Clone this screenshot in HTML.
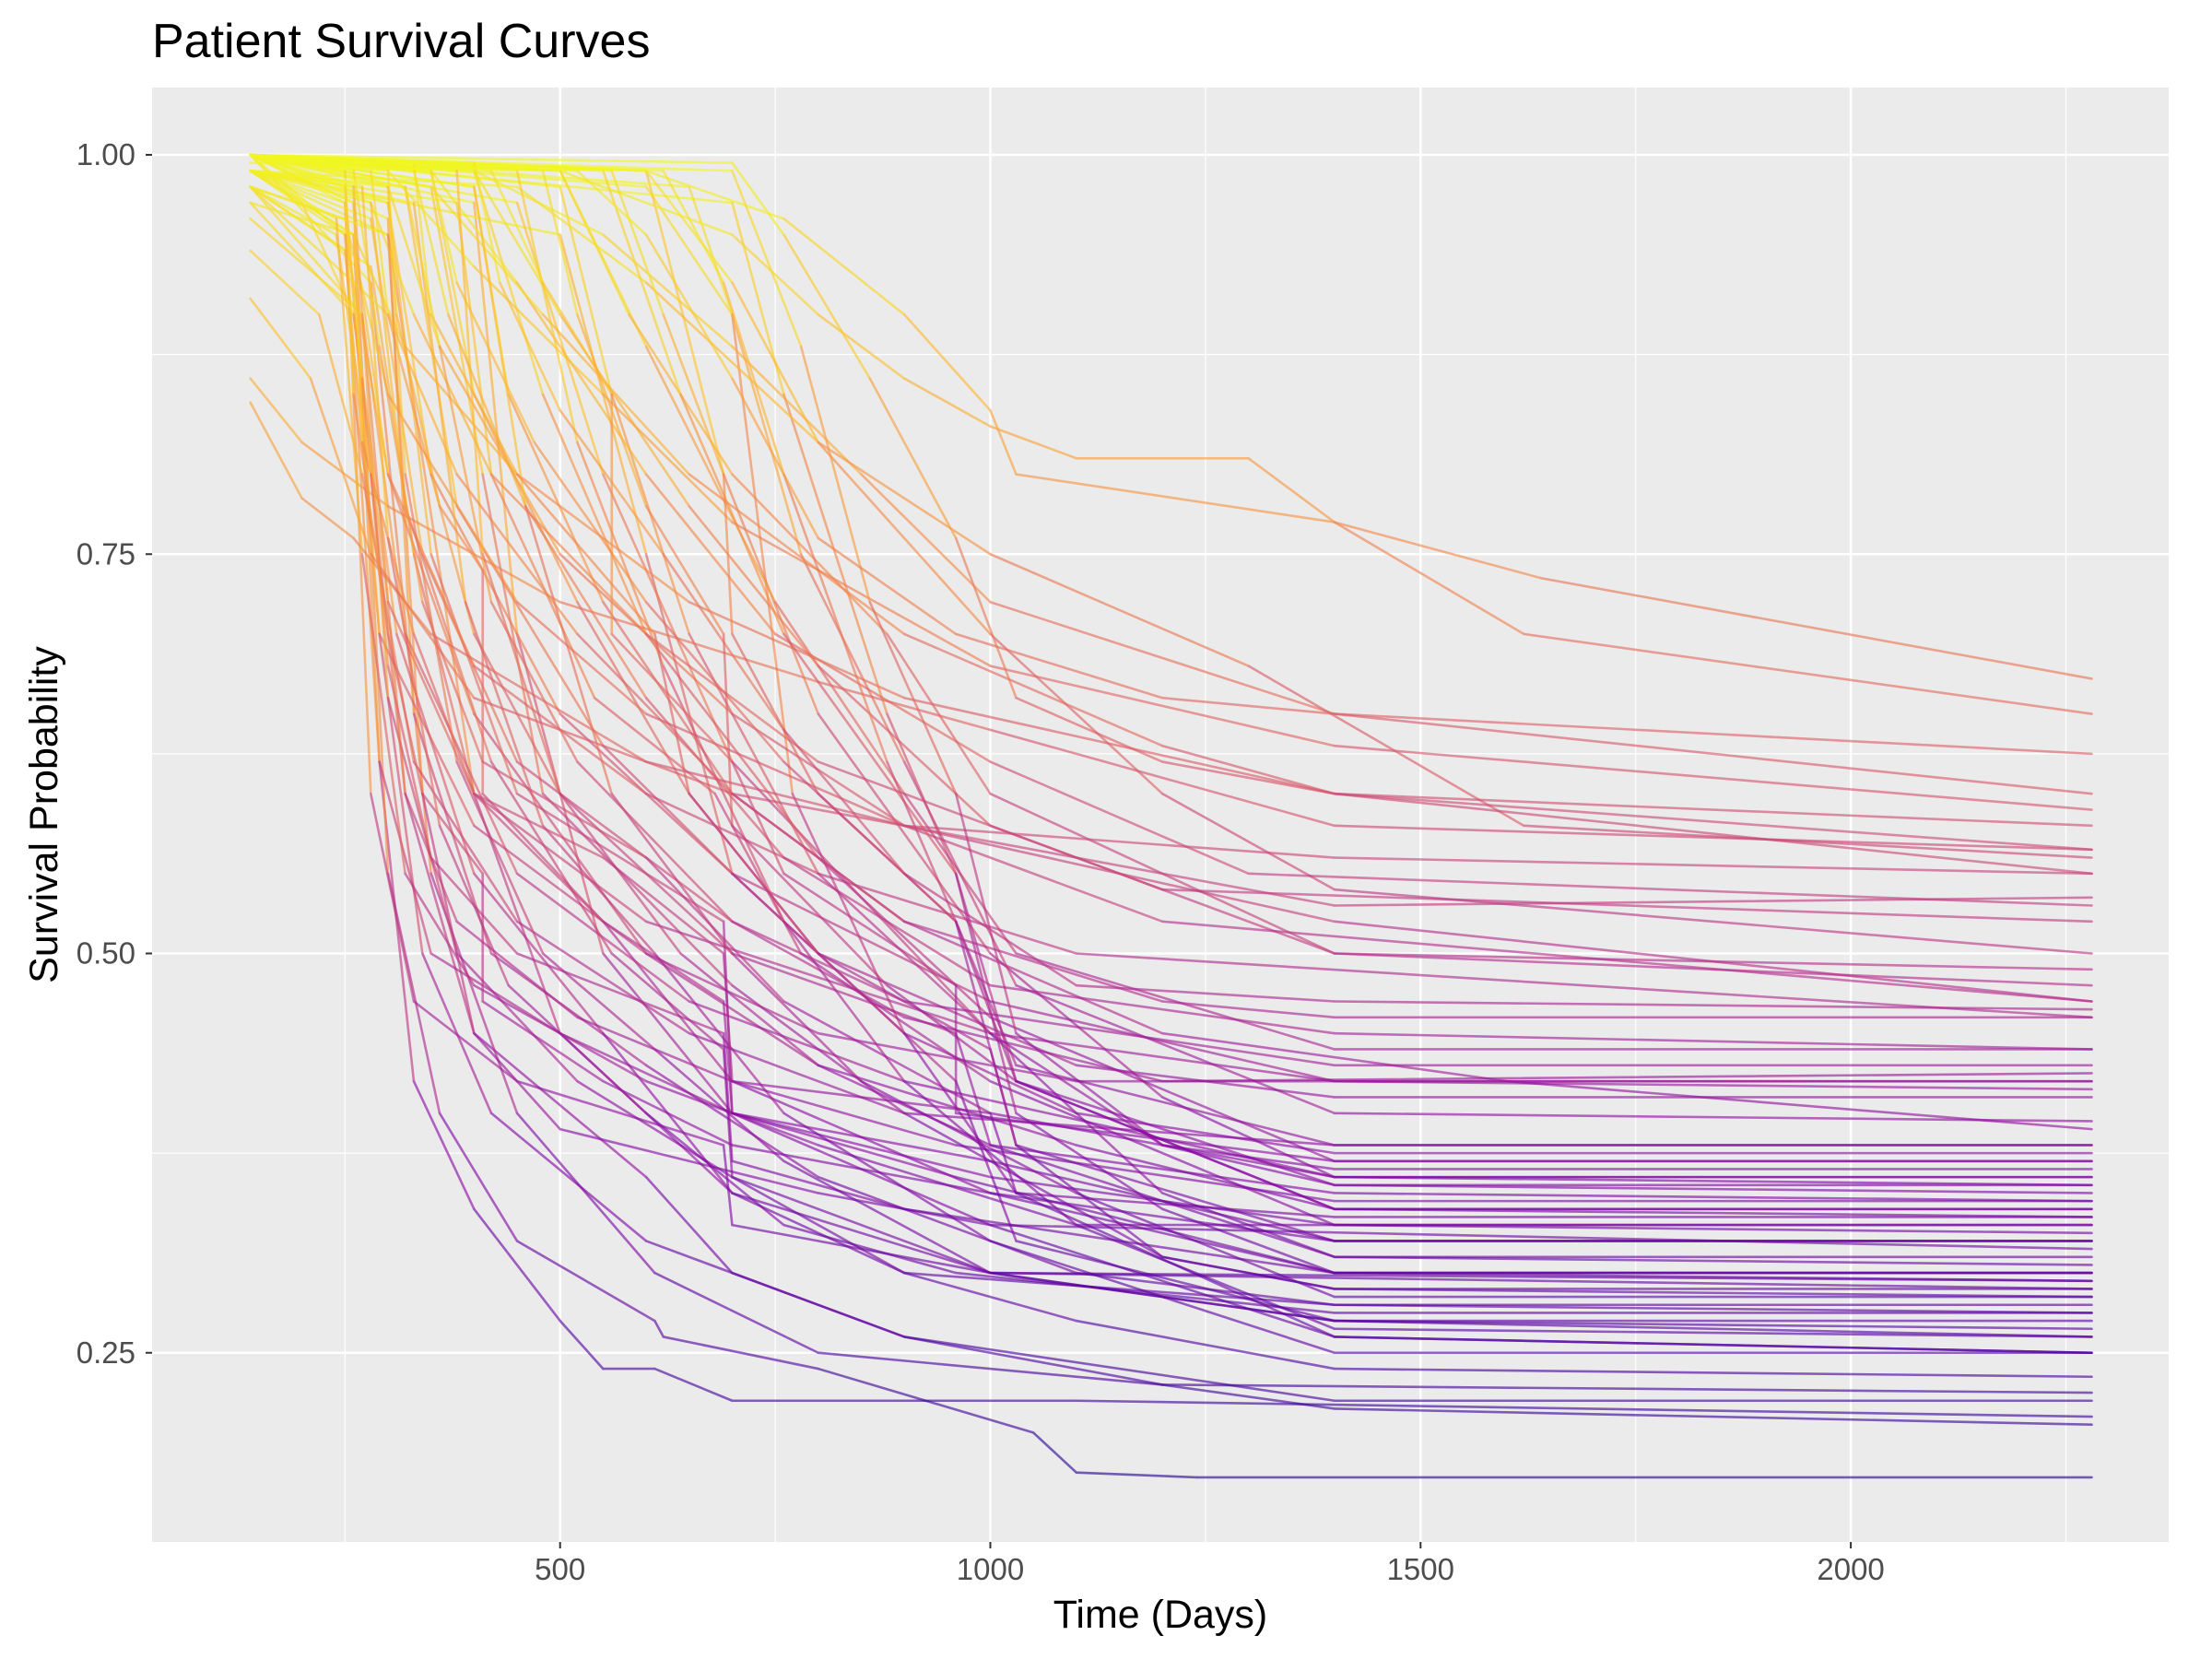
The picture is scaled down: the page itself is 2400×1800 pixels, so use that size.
<!DOCTYPE html>
<html><head><meta charset="utf-8"><style>
html,body{margin:0;padding:0;background:#fff;}
svg{display:block;font-family:"Liberation Sans",Arial,sans-serif;}
</style></head><body>
<svg id="chart" width="2400" height="1800" viewBox="0 0 2400 1800" xmlns="http://www.w3.org/2000/svg">
<rect width="2400" height="1800" fill="#ffffff"/>
<text x="165" y="62" font-size="52" fill="#000">Patient Survival Curves</text>
<rect x="165" y="95" width="2188" height="1578" fill="#ebebeb"/>
<g id="grid"></g>
<g id="lines"></g>
<g id="axes"></g>
<text x="1259" y="1766" font-size="43" text-anchor="middle" fill="#000">Time (Days)</text>
<text x="0" y="0" font-size="43" text-anchor="middle" fill="#000" transform="translate(62,884) rotate(-90)">Survival Probability</text>
</svg>
<script>
const xTicks = [500, 1000, 1500, 2000];
const xMinor = [250, 750, 1250, 1750, 2250];
const yTicks = [0.25, 0.5, 0.75, 1.0];
const yTickLabels = ["0.25", "0.50", "0.75", "1.00"];
const yMinor = [0.375, 0.625, 0.875];
const curves = [
[[140,0.99],[250,0.95],[290,0.62],[330,0.42],[400,0.34],[500,0.27],[550,0.24],[610,0.24],[700,0.22],[1000,0.22],[1100,0.22],[2280,0.21]],
[[140,1],[260,0.97],[300,0.55],[360,0.40],[450,0.32],[610,0.27],[620,0.26],[800,0.24],[1050,0.2],[1100,0.175],[1240,0.172],[2280,0.172]],
[[140,0.98],[270,0.9],[320,0.6],[400,0.45],[600,0.36],[700,0.3],[900,0.26],[1400,0.22],[2280,0.22]],
[[140,1],[280,0.92],[350,0.55],[450,0.4],[610,0.3],[800,0.25],[1200,0.23],[1400,0.215],[2280,0.205]],
[[140,0.99],[300,0.95],[400,0.6],[500,0.45],[700,0.35],[900,0.3],[1100,0.27],[1400,0.24],[2280,0.235]],
[[140,1],[250,0.98],[290,0.7],[340,0.5],[420,0.4],[600,0.32],[900,0.26],[1200,0.23],[2280,0.225]],
[[140,1],[400,0.97],[450,0.7],[550,0.5],[700,0.4],[1000,0.33],[1400,0.26],[2280,0.25]],
[[140,0.99],[500,0.95],[600,0.75],[700,0.55],[960,0.42],[1030,0.32],[1400,0.27],[2280,0.26]],
[[140,1],[300,0.96],[330,0.65],[420,0.5],[600,0.43],[800,0.36],[1100,0.3],[1400,0.28],[2280,0.275]],
[[140,0.97],[260,0.9],[310,0.7],[400,0.55],[550,0.45],[700,0.35],[1000,0.3],[2280,0.29]],
[[140,1],[600,0.98],[700,0.9],[770,0.6],[900,0.45],[1030,0.35],[1400,0.26],[2280,0.25]],
[[140,1],[350,0.98],[410,0.8],[480,0.6],[700,0.48],[900,0.4],[1200,0.31],[1400,0.29],[2280,0.285]],
[[140,0.98],[280,0.93],[330,0.75],[400,0.6],[550,0.52],[700,0.42],[1000,0.35],[1400,0.3],[2280,0.3]],
[[140,1],[450,0.97],[550,0.8],[700,0.62],[1000,0.45],[1200,0.35],[1400,0.31],[2280,0.305]],
[[140,1],[250,0.95],[300,0.8],[400,0.65],[600,0.5],[800,0.43],[1100,0.38],[1400,0.34],[2280,0.335]],
[[140,0.99],[300,0.97],[350,0.75],[450,0.6],[690,0.52],[700,0.4],[1000,0.36],[1400,0.33],[2280,0.33]],
[[140,1],[500,0.98],[560,0.85],[650,0.7],[800,0.55],[1000,0.45],[1200,0.38],[1400,0.355],[2280,0.35]],
[[140,0.96],[270,0.9],[320,0.7],[450,0.55],[650,0.47],[900,0.42],[1400,0.36],[2280,0.36]],
[[140,1],[400,0.99],[480,0.85],[600,0.7],[800,0.56],[1000,0.46],[1400,0.37],[2280,0.37]],
[[140,1],[700,0.97],[760,0.85],[880,0.65],[960,0.55],[1030,0.42],[1400,0.34],[2280,0.34]],
[[140,0.99],[260,0.95],[290,0.62],[350,0.5],[500,0.45],[700,0.4],[1000,0.37],[1400,0.32],[2280,0.32]],
[[140,1],[320,0.98],[380,0.78],[550,0.63],[700,0.55],[900,0.45],[1100,0.4],[1400,0.375],[2280,0.375]],
[[140,0.98],[300,0.9],[400,0.7],[500,0.6],[700,0.5],[960,0.45],[1000,0.38],[1400,0.31],[2280,0.31]],
[[140,1],[600,0.99],[690,0.8],[800,0.65],[1000,0.5],[1200,0.41],[1400,0.36],[2280,0.355]],
[[140,1],[250,0.97],[280,0.6],[330,0.47],[450,0.42],[690,0.38],[700,0.33],[1000,0.3],[2280,0.295]],
[[140,0.99],[380,0.97],[420,0.8],[540,0.66],[680,0.6],[780,0.5],[1000,0.42],[1400,0.33],[2280,0.325]],
[[140,1],[300,0.97],[350,0.8],[500,0.65],[700,0.55],[1000,0.47],[1400,0.42],[2280,0.415]],
[[140,1],[500,0.99],[600,0.88],[750,0.72],[900,0.6],[1030,0.5],[1400,0.44],[2280,0.44]],
[[140,0.98],[250,0.94],[290,0.7],[400,0.58],[600,0.5],[800,0.45],[1100,0.42],[2280,0.42]],
[[140,1],[400,0.98],[440,0.85],[550,0.72],[700,0.6],[900,0.52],[1200,0.45],[1600,0.42],[2280,0.39]],
[[140,1],[650,0.98],[700,0.9],[780,0.75],[900,0.62],[1030,0.48],[1400,0.4],[2280,0.395]],
[[140,0.99],[280,0.96],[340,0.75],[450,0.62],[700,0.52],[900,0.47],[1400,0.43],[2280,0.43]],
[[140,1],[350,0.99],[400,0.85],[520,0.72],[650,0.6],[800,0.5],[1100,0.43],[1400,0.41],[2280,0.41]],
[[140,1],[200,0.97],[260,0.9],[300,0.72],[400,0.6],[600,0.52],[1000,0.45],[1400,0.42],[2280,0.42]],
[[140,1],[400,0.99],[500,0.9],[650,0.78],[800,0.68],[1000,0.58],[1400,0.5],[2280,0.48]],
[[140,1],[300,0.98],[360,0.88],[500,0.75],[700,0.65],[900,0.58],[1200,0.52],[2280,0.47]],
[[140,0.99],[260,0.95],[300,0.8],[400,0.68],[600,0.6],[800,0.55],[1100,0.5],[2280,0.46]],
[[140,1],[600,0.99],[700,0.92],[800,0.82],[1000,0.7],[1200,0.6],[1400,0.54],[2280,0.5]],
[[140,1],[350,0.99],[450,0.92],[600,0.8],[750,0.7],[1000,0.62],[1300,0.55],[2280,0.53]],
[[140,0.98],[250,0.96],[300,0.85],[450,0.72],[600,0.65],[900,0.58],[1400,0.52],[2280,0.47]],
[[140,1],[500,0.99],[580,0.9],[700,0.8],[880,0.7],[1000,0.6],[1400,0.5],[2280,0.49]],
[[140,0.99],[280,0.97],[330,0.9],[420,0.8],[600,0.7],[800,0.62],[1200,0.54],[2280,0.52]],
[[140,1],[500,0.99],[700,0.95],[800,0.9],[900,0.86],[1000,0.83],[1100,0.81],[1300,0.81],[1400,0.77],[1620,0.7],[2280,0.65]],
[[140,1],[600,0.99],[760,0.96],[900,0.9],[1000,0.84],[1030,0.8],[1400,0.77],[1640,0.735],[2280,0.672]],
[[140,1],[400,0.99],[550,0.95],[700,0.88],[850,0.8],[1000,0.72],[1400,0.65],[2280,0.625]],
[[140,0.99],[450,0.98],[600,0.92],[800,0.82],[1000,0.75],[1300,0.68],[1620,0.58],[2280,0.56]],
[[140,1],[300,0.99],[400,0.93],[550,0.85],[700,0.77],[1000,0.68],[1400,0.63],[2280,0.59]],
[[140,1],[350,0.98],[480,0.9],[650,0.8],[900,0.7],[1200,0.63],[1400,0.6],[2280,0.58]],
[[140,0.97],[260,0.95],[320,0.88],[450,0.8],[650,0.72],[900,0.66],[1400,0.6],[2280,0.55]],
[[140,0.86],[200,0.82],[300,0.78],[500,0.72],[800,0.67],[1000,0.64],[1400,0.58],[2280,0.565]],
[[140,0.845],[200,0.785],[260,0.76],[350,0.7],[600,0.62],[900,0.58],[1400,0.56],[2280,0.55]],
[[140,0.91],[210,0.86],[280,0.75],[400,0.66],[700,0.6],[1000,0.57],[1400,0.53],[2280,0.535]],
[[140,1],[450,0.99],[520,0.82],[620,0.68],[760,0.52],[900,0.42],[1100,0.33],[1400,0.265],[2280,0.26]],
[[140,1],[260,0.98],[300,0.66],[380,0.5],[520,0.42],[700,0.36],[900,0.3],[1400,0.28],[2280,0.28]],
[[140,0.99],[330,0.97],[390,0.72],[480,0.58],[610,0.5],[760,0.4],[1000,0.32],[1400,0.25],[2280,0.25]],
[[140,1],[280,0.97],[320,0.78],[420,0.62],[560,0.5],[690,0.44],[700,0.36],[1000,0.3],[1400,0.27],[2280,0.27]],
[[140,1],[550,0.99],[640,0.85],[760,0.7],[960,0.55],[1030,0.4],[1200,0.34],[1400,0.3],[2280,0.3]],
[[140,0.98],[300,0.95],[340,0.6],[400,0.45],[500,0.39],[800,0.35],[1000,0.33],[2280,0.315]],
[[140,1],[380,0.99],[410,0.75],[500,0.6],[640,0.5],[800,0.43],[1000,0.38],[1400,0.35],[2280,0.345]],
[[140,1],[700,0.99],[780,0.88],[860,0.72],[960,0.6],[1030,0.45],[1200,0.38],[1400,0.365],[2280,0.365]],
[[140,0.99],[240,0.96],[270,0.75],[320,0.55],[400,0.48],[600,0.42],[800,0.38],[1100,0.33],[2280,0.33]],
[[140,1],[400,0.98],[460,0.78],[560,0.6],[700,0.5],[850,0.42],[1100,0.35],[1400,0.285],[2280,0.285]],
[[140,0.94],[220,0.9],[270,0.8],[330,0.62],[450,0.52],[650,0.45],[900,0.4],[1400,0.38],[2280,0.38]],
[[140,1],[330,0.99],[370,0.9],[460,0.78],[600,0.66],[760,0.56],[1000,0.48],[1400,0.45],[2280,0.44]],
[[140,1],[250,0.99],[260,0.85],[300,0.7],[340,0.6],[410,0.55],[410,0.47],[550,0.42],[700,0.38],[1000,0.35],[1400,0.32],[2280,0.32]],
[[140,1],[300,0.99],[310,0.9],[360,0.78],[410,0.74],[410,0.6],[550,0.52],[690,0.47],[700,0.4],[960,0.36],[1400,0.3],[2280,0.3]],
[[140,0.99],[260,0.98],[270,0.82],[330,0.7],[400,0.6],[550,0.56],[690,0.5],[700,0.42],[1000,0.4],[1030,0.35],[1400,0.335],[2280,0.335]],
[[140,1],[420,0.99],[480,0.92],[560,0.85],[560,0.7],[700,0.62],[760,0.55],[960,0.48],[960,0.4],[1400,0.37],[2280,0.37]],
[[140,1],[330,0.995],[350,0.9],[450,0.8],[610,0.7],[650,0.6],[800,0.5],[1000,0.44],[1030,0.38],[1400,0.32],[2280,0.32]],
[[140,0.99],[250,0.97],[270,0.86],[300,0.68],[350,0.56],[450,0.5],[690,0.45],[700,0.37],[900,0.34],[1400,0.3],[2280,0.295]],
[[140,1],[560,0.99],[620,0.9],[690,0.8],[700,0.7],[800,0.6],[960,0.52],[1030,0.42],[1400,0.355],[2280,0.355]],
[[140,1],[260,0.99],[290,0.88],[340,0.72],[410,0.62],[600,0.56],[760,0.47],[1000,0.4],[1400,0.36],[2280,0.36]],
[[140,1],[350,0.99],[380,0.92],[470,0.82],[600,0.72],[760,0.62],[960,0.52],[1030,0.43],[1400,0.38],[2280,0.38]],
[[140,0.99],[300,0.98],[320,0.8],[380,0.62],[480,0.5],[610,0.44],[760,0.37],[1000,0.3],[1400,0.27],[2280,0.265]],
[[140,1],[480,0.99],[520,0.9],[600,0.78],[690,0.7],[700,0.58],[880,0.48],[1030,0.42],[1400,0.34],[2280,0.34]],
[[140,0.98],[240,0.95],[280,0.8],[320,0.6],[380,0.52],[520,0.46],[700,0.42],[960,0.38],[1400,0.345],[2280,0.345]],
[[140,1],[620,0.99],[690,0.92],[760,0.8],[880,0.62],[960,0.52],[1030,0.38],[1200,0.31],[1400,0.29],[2280,0.29]],
[[140,1],[280,0.99],[300,0.9],[380,0.8],[520,0.7],[700,0.6],[900,0.52],[1200,0.47],[1400,0.46],[2280,0.46]],
[[140,0.99],[320,0.98],[360,0.88],[420,0.72],[520,0.62],[700,0.52],[900,0.46],[1200,0.42],[2280,0.425]],
[[140,1],[400,0.995],[430,0.92],[500,0.84],[620,0.75],[760,0.64],[900,0.55],[1100,0.48],[1400,0.47],[2280,0.465]],
[[140,1],[270,0.98],[300,0.76],[360,0.58],[440,0.48],[600,0.4],[760,0.33],[960,0.3],[1400,0.275],[2280,0.275]],
[[140,1],[700,0.995],[760,0.95],[860,0.86],[960,0.76],[1030,0.66],[1200,0.62],[1400,0.6],[2280,0.565]],
[[140,0.995],[520,0.99],[600,0.95],[700,0.86],[800,0.76],[960,0.7],[1200,0.66],[1400,0.65],[2280,0.6]]
];
const NS = "http://www.w3.org/2000/svg";
function xs(t){ return 607.7 + (t - 500) * 0.9336; }
function ys(v){ return 168 + (1 - v) * 1733; }
const plasma = [[13,8,135],[84,2,163],[139,10,165],[185,50,137],[219,92,104],[244,136,73],[254,188,43],[240,249,33]];
function color(v){
  let t = Math.max(0, Math.min(1, (v - 0.17) / 0.83));
  t = 0.04 + t * 0.96;
  const p = t * (plasma.length - 1), i = Math.min(plasma.length - 2, Math.floor(p)), f = p - i;
  const c = plasma[i].map((a, k) => Math.round(a + (plasma[i+1][k] - a) * f));
  return "rgb(" + c.join(",") + ")";
}
const grid = document.getElementById("grid");
function ln(parent, x1, y1, x2, y2, stroke, w){
  const l = document.createElementNS(NS, "line");
  l.setAttribute("x1", x1); l.setAttribute("y1", y1); l.setAttribute("x2", x2); l.setAttribute("y2", y2);
  l.setAttribute("stroke", stroke); l.setAttribute("stroke-width", w);
  parent.appendChild(l); return l;
}
xMinor.forEach(t => { const l = ln(grid, xs(t), 95, xs(t), 1673, "#fff", 1.2);

 });
yMinor.forEach(v => { const l = ln(grid, 165, ys(v), 2353, ys(v), "#fff", 1.2);

 });
xTicks.forEach(t => { const l = ln(grid, xs(t), 95, xs(t), 1673, "#fff", 2.4);

 });
yTicks.forEach(v => { const l = ln(grid, 165, ys(v), 2353, ys(v), "#fff", 2.4);

 });
const lines = document.getElementById("lines");
curves.forEach((c, ci) => {
  const g = document.createElementNS(NS, "g");
  
  
  g.setAttribute("opacity", "0.62");
  for (let i = 0; i < c.length - 1; i++) {
    const a = c[i], b = c[i+1];
    const s = ln(g, xs(a[0]), ys(a[1]), xs(b[0]), ys(b[1]), color((a[1] + b[1]) / 2), 2.6);
    s.setAttribute("stroke-linecap", "round");
    
    
  }
  lines.appendChild(g);
});
const axes = document.getElementById("axes");
xTicks.forEach(t => {
  const tk = ln(axes, xs(t), 1673, xs(t), 1680, "#333", 2);
  
  
  const tx = document.createElementNS(NS, "text");
  tx.setAttribute("x", xs(t)); tx.setAttribute("y", 1714);
  tx.setAttribute("text-anchor", "middle"); tx.setAttribute("font-size", "33"); tx.setAttribute("fill", "#4d4d4d");
  tx.textContent = t;
  
  
  axes.appendChild(tx);
});
yTicks.forEach((v, i) => {
  const tk = ln(axes, 158, ys(v), 165, ys(v), "#333", 2);
  
  
  const tx = document.createElementNS(NS, "text");
  tx.setAttribute("x", 147); tx.setAttribute("y", ys(v) + 11);
  tx.setAttribute("text-anchor", "end"); tx.setAttribute("font-size", "33"); tx.setAttribute("fill", "#4d4d4d");
  tx.textContent = yTickLabels[i];
  
  
  axes.appendChild(tx);
});
</script>
</body></html>
